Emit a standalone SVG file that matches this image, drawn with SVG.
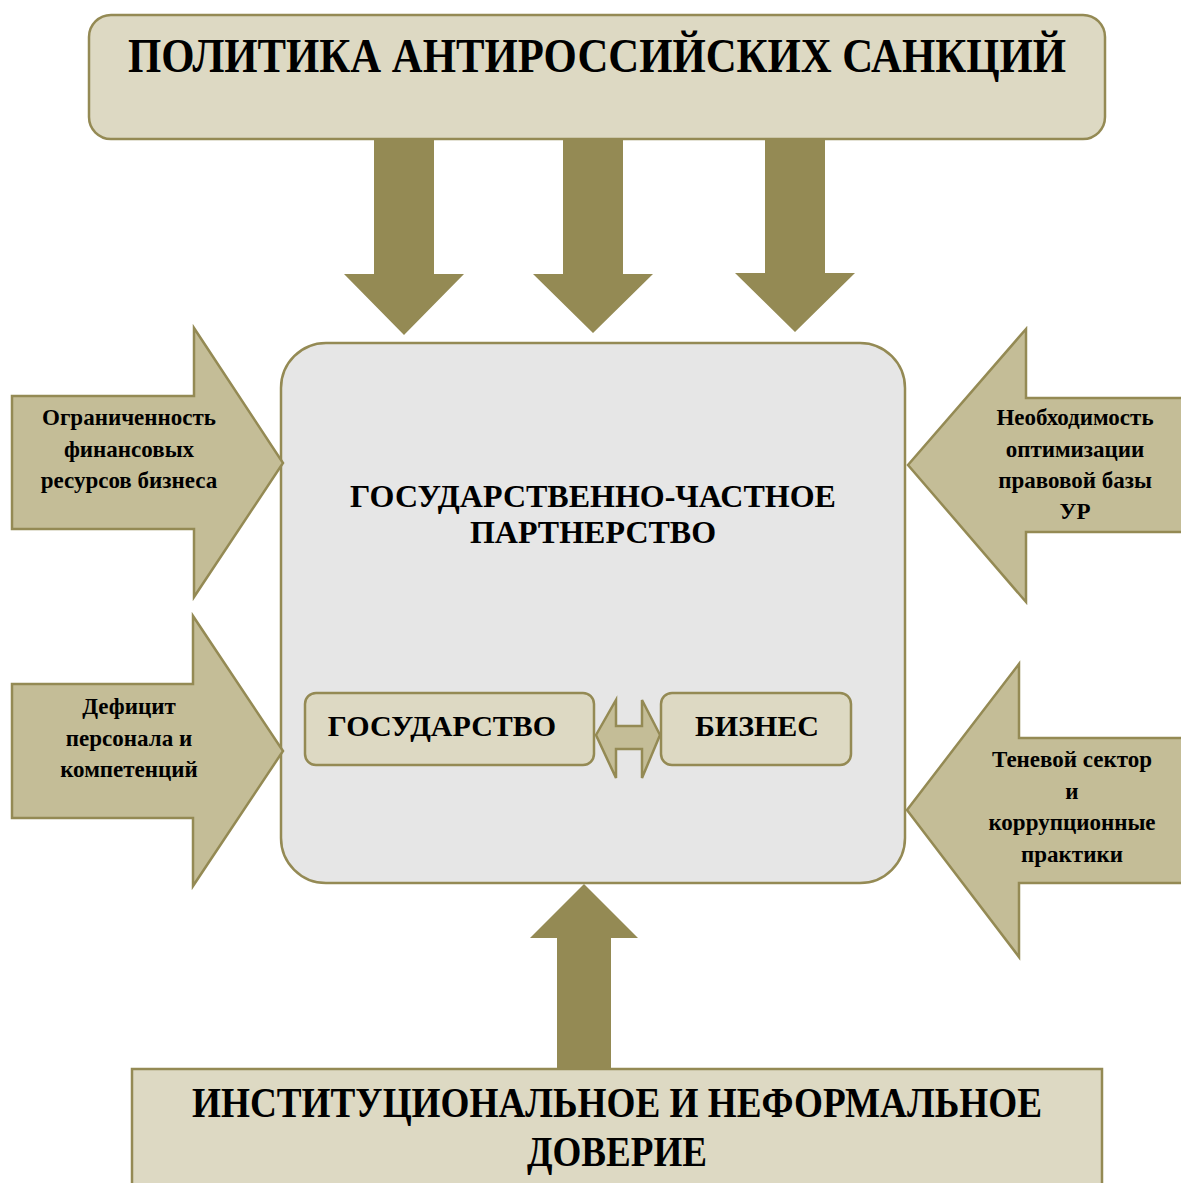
<svg xmlns="http://www.w3.org/2000/svg" width="1181" height="1183" viewBox="0 0 1181 1183">
<style>
.box{fill:#ddd9c3;stroke:#948a54;stroke-width:2.5}
.dark{fill:#948a54}
.side{fill:#c4bd97;stroke:#948a54;stroke-width:2.5}
.t{font-family:"Liberation Serif","Times New Roman",serif;font-weight:bold;fill:#000;text-anchor:middle}
.s{font-size:23px}
</style>
<rect width="1181" height="1183" fill="#fff"/>
<g id="top">
<rect class="box" x="89" y="15" width="1016" height="124" rx="22"/>
<text class="t" x="597" y="72" font-size="48" textLength="938" lengthAdjust="spacingAndGlyphs">ПОЛИТИКА АНТИРОССИЙСКИХ САНКЦИЙ</text>
</g>
<g id="center">
<rect x="281" y="343" width="624" height="540" rx="45" fill="#e6e6e6" stroke="#948a54" stroke-width="2.5"/>
<text class="t" x="593" y="507" font-size="32">ГОСУДАРСТВЕННО-ЧАСТНОЕ</text>
<text class="t" x="593" y="543" font-size="32">ПАРТНЕРСТВО</text>
</g>
<g id="gos">
<rect class="box" x="305" y="693" width="289" height="72" rx="11"/>
<text class="t" x="442" y="736" font-size="30">ГОСУДАРСТВО</text>
</g>
<g id="biz">
<rect class="box" x="661" y="693" width="190" height="72" rx="11"/>
<text class="t" x="757" y="736" font-size="30">БИЗНЕС</text>
</g>
<g id="left1">
<polygon class="side" points="12,396 194,396 194,328 283,463 194,597 194,529 12,529"/>
<text class="t s" x="129" y="425">Ограниченность</text>
<text class="t s" x="129" y="457">финансовых</text>
<text class="t s" x="129" y="488">ресурсов бизнеса</text>
</g>
<g id="left2">
<polygon class="side" points="12,684 193,684 193,616 283,751 193,886 193,818 12,818"/>
<text class="t s" x="129" y="714">Дефицит</text>
<text class="t s" x="129" y="746">персонала и</text>
<text class="t s" x="129" y="777">компетенций</text>
</g>
<g id="right1">
<polygon class="side" points="1183,398 1026,398 1026,329 908,465 1026,602 1026,532 1183,532"/>
<text class="t s" x="1075" y="425">Необходимость</text>
<text class="t s" x="1075" y="457">оптимизации</text>
<text class="t s" x="1075" y="488">правовой базы</text>
<text class="t s" x="1075" y="519">УР</text>
</g>
<g id="right2">
<polygon class="side" points="1183,738 1019,738 1019,664 907,810 1019,957 1019,883 1183,883"/>
<text class="t s" x="1072" y="767">Теневой сектор</text>
<text class="t s" x="1072" y="799">и</text>
<text class="t s" x="1072" y="830">коррупционные</text>
<text class="t s" x="1072" y="862">практики</text>
</g>
<g id="bottom">
<rect class="box" x="132" y="1069" width="970" height="130"/>
<text class="t" x="617" y="1117" font-size="42" textLength="850" lengthAdjust="spacingAndGlyphs">ИНСТИТУЦИОНАЛЬНОЕ И НЕФОРМАЛЬНОЕ</text>
<text class="t" x="617" y="1166" font-size="42" textLength="180" lengthAdjust="spacingAndGlyphs">ДОВЕРИЕ</text>
</g>
<g id="connectors">
<polygon class="dark" points="374,139 434,139 434,274 464,274 404,335 344,274 374,274"/>
<polygon class="dark" points="563,139 623,139 623,274 653,274 593,333 533,274 563,274"/>
<polygon class="dark" points="765,139 825,139 825,273 855,273 795,332 735,273 765,273"/>
<polygon class="dark" points="557,1070 611,1070 611,938 638,938 584,884 530,938 557,938"/>
<polygon class="side" points="596,735 616,700 616,726 642,726 642,700 660,735 642,778 642,749 616,749 616,778"/>
</g>
</svg>
